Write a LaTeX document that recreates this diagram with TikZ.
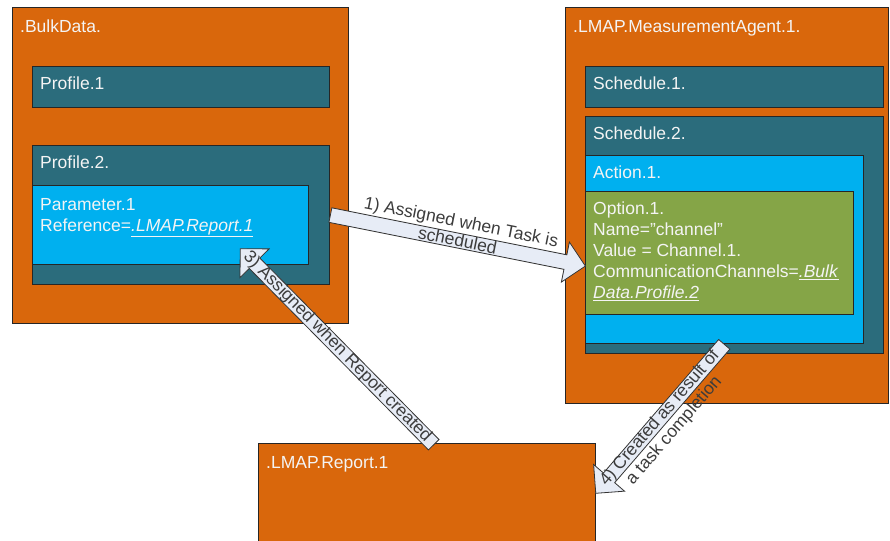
\documentclass[tikz,border=0pt]{standalone}
\usepackage{fontspec}
\setmainfont{Liberation Sans}
\usetikzlibrary{shapes.arrows,calc}

\definecolor{bdorange}{HTML}{D9670C}
\definecolor{bdteal}{HTML}{2B6C7C}
\definecolor{bdblue}{HTML}{00B0EF}
\definecolor{bdgreen}{HTML}{85A547}
\definecolor{bdarrow}{HTML}{E7ECF6}
\definecolor{bdtext}{HTML}{F4F4F4}
\definecolor{bdlabel}{HTML}{3C3C3C}

\tikzset{
  box/.style={draw=black!85, line width=1pt, anchor=north west, inner sep=0pt},
  objbox/.style={box, fill=bdorange},
  profbox/.style={box, fill=bdteal},
  parbox/.style={box, fill=bdblue},
  optbox/.style={box, fill=bdgreen},
  ttl/.style={anchor=north west, inner xsep=8pt, inner ysep=11pt, text=bdtext,
    align=left, font=\fontsize{17.5}{21}\selectfont},
  objttl/.style={ttl, inner ysep=13pt},
  alabel/.style={text=bdlabel, align=center, font=\fontsize{17.5}{19}\selectfont},
  barrow/.style={single arrow, draw=black!80, fill=bdarrow, line width=0.8pt,
    inner sep=7pt, single arrow head extend=13pt, single arrow tip angle=90,
    single arrow head indent=0pt},
  blockarrow/.style={to path={let \p1=(\tikztostart), \p2=(\tikztotarget),
    \n1={atan2(\y2-\y1,\x2-\x1)}, \n2={veclen(\x2-\x1,\y2-\y1)} in
    node[barrow, minimum height={\n2}, rotate={\n1}, anchor=tail] at (\p1) {}}}
}
\newcommand{\lnk}[1]{\underline{\textit{#1}}}

\begin{document}
\begin{tikzpicture}[x=1pt,y=-1pt]
\useasboundingbox (0,0) rectangle (890,540);

% .BulkData.
\node[objbox, minimum width=336, minimum height=316] (bulk) at (12,7) {};
\node[objttl] at (bulk.north west) {.BulkData.};
\node[profbox, minimum width=297, minimum height=41] (prof1) at (32,66) {};
\node[ttl] at (prof1.north west) {Profile.1};
\node[profbox, minimum width=297, minimum height=139] (prof2) at (32,145) {};
\node[ttl] at (prof2.north west) {Profile.2.};
\node[parbox, minimum width=276, minimum height=79] (param) at (32,185) {};
\node[ttl, inner ysep=13pt] at (param.north west) {Parameter.1\\Reference=\lnk{.LMAP.Report.1}};

% .LMAP.MeasurementAgent.1.
\node[objbox, minimum width=323, minimum height=396] (agent) at (565,7) {};
\node[objttl] at (agent.north west) {.LMAP.MeasurementAgent.1.};
\node[profbox, minimum width=298, minimum height=41] (sched1) at (585,66) {};
\node[ttl] at (sched1.north west) {Schedule.1.};
\node[profbox, minimum width=298, minimum height=237] (sched2) at (585,116) {};
\node[ttl] at (sched2.north west) {Schedule.2.};
\node[parbox, minimum width=278, minimum height=188] (action) at (585,155) {};
\node[ttl] at (action.north west) {Action.1.};
\node[optbox, minimum width=268, minimum height=123] (option) at (585,191) {};
\node[ttl] at (option.north west) {Option.1.\\Name="channel"\\Value = Channel.1.\\
  CommunicationChannels=\lnk{.Bulk}\\\lnk{Data.Profile.2}};

% .LMAP.Report.1
\node[objbox, minimum width=337, minimum height=110] (report) at (258,443) {};
\node[objttl] at (report.north west) {.LMAP.Report.1};

% arrows
\coordinate (a1s) at (prof2.east);
\coordinate (a1e) at ($(option.west)+(0,13)$);
\path (a1s) to[blockarrow] (a1e);
\path (a1s) -- (a1e) node[midway, sloped, alabel, yshift=10pt] {1) Assigned when Task is\\scheduled};

\coordinate (a3s) at ($(report.north)+(7,2)$);
\coordinate (a3e) at ($(param.south)+(70,-16)$);
\path (a3s) to[blockarrow] (a3e);
\path (a3s) -- (a3e) node[midway, sloped, alabel] {3) Assigned when Report created};

\coordinate (a4s) at (action.south);
\coordinate (a4e) at ($(report.north east)+(0,50)$);
\path (a4s) to[blockarrow] (a4e);
\path (a4s) -- (a4e) node[midway, sloped, alabel, yshift=-9pt] {4) Created as result of\\a task completion};
\end{tikzpicture}
\end{document}
